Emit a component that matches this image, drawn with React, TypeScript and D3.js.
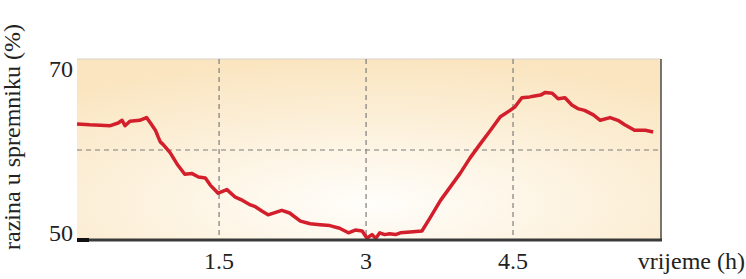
import React from 'react';
import * as d3 from 'd3';

// vrijeme (h)
const times = [
    0.05, 0.18, 0.39, 0.47, 0.51, 0.54, 0.59, 0.69, 0.76, 0.8, 0.85, 0.88, 0.9,
    0.93, 1.0, 1.08, 1.15, 1.22, 1.29, 1.36, 1.41, 1.49, 1.58, 1.66, 1.74, 1.82,
    1.87, 1.94, 2.0, 2.14, 2.22, 2.33, 2.43, 2.53, 2.63, 2.73, 2.82, 2.89, 2.96,
    3.01, 3.06, 3.1, 3.14, 3.19, 3.24, 3.3, 3.35, 3.45, 3.57, 3.65, 3.76, 3.86,
    3.96, 4.06, 4.16, 4.27, 4.37, 4.47, 4.52, 4.59, 4.67, 4.72, 4.78, 4.83, 4.9,
    4.96, 5.03, 5.1, 5.16, 5.23, 5.32, 5.39, 5.49, 5.57, 5.64, 5.74, 5.85, 5.93,
];
// razina u spremniku (%)
const levels = [
    62.9, 62.8, 62.7, 63.0, 63.3, 62.7, 63.2, 63.3, 63.6, 63.0, 62.2, 61.4, 60.9,
    60.6, 59.7, 58.3, 57.3, 57.4, 57.0, 56.9, 56.1, 55.2, 55.6, 54.8, 54.4, 53.9,
    53.7, 53.2, 52.8, 53.3, 53.0, 52.1, 51.8, 51.7, 51.6, 51.3, 50.8, 51.1, 51.0,
    50.2, 50.6, 50.2, 50.8, 50.6, 50.7, 50.6, 50.8, 50.9, 51.0, 52.4, 54.4, 55.9,
    57.4, 59.1, 60.6, 62.2, 63.7, 64.4, 64.8, 65.8, 65.9, 66.0, 66.1, 66.4, 66.3,
    65.7, 65.8, 65.0, 64.6, 64.4, 63.9, 63.3, 63.6, 63.3, 62.8, 62.2, 62.2, 62.0,
];
const xTicks = [1.5, 3, 4.5];
const xTickLabels = ['1.5', '3', '4.5'];
const yTicks = [50, 70];
const yGrid = [60];

const width = 746;
const height = 279;
const plot = { left: 77, right: 661, top: 59, bottom: 240 };
const font = '"Liberation Serif", "Times New Roman", serif';

const App: React.FC = () => {
    const x = d3.scaleLinear().domain([0.05, 6.01]).range([plot.left, plot.right]);
    const y = d3.scaleLinear().domain([50, 70]).range([plot.bottom, 60]);

    const points = times.map((t, i) => ({ t, v: levels[i] }));
    const line = d3
        .line<{ t: number; v: number }>()
        .x((d) => x(d.t))
        .y((d) => y(d.v));

    return (
        <svg
            width={width}
            height={height}
            style={{ position: 'absolute', left: 0, top: 0, background: '#fff' }}
        >
            <defs>
                <radialGradient id="bg" cx="50%" cy="80%" r="80%">
                    <stop offset="0%" stopColor="#fffefb" />
                    <stop offset="40%" stopColor="#fdf4e3" />
                    <stop offset="100%" stopColor="#fae5c0" />
                </radialGradient>
            </defs>

            {/* pozadina */}
            <rect
                x={plot.left}
                y={plot.top}
                width={plot.right - plot.left}
                height={plot.bottom - plot.top}
                fill="url(#bg)"
            />
            <line
                x1={plot.left}
                x2={plot.right}
                y1={plot.top}
                y2={plot.top}
                stroke="#d8d2c8"
                strokeWidth={1}
            />

            {/* mreža */}
            {xTicks.map((t) => (
                <line
                    key={'gx' + t}
                    x1={x(t)}
                    x2={x(t)}
                    y1={plot.top}
                    y2={plot.bottom}
                    stroke="#7d7d7d"
                    strokeWidth={1.2}
                    strokeDasharray="5 4"
                />
            ))}
            {yGrid.map((v) => (
                <line
                    key={'gy' + v}
                    x1={plot.left}
                    x2={plot.right}
                    y1={y(v)}
                    y2={y(v)}
                    stroke="#7d7d7d"
                    strokeWidth={1.2}
                    strokeDasharray="5 4"
                />
            ))}

            {/* krivulja */}
            <path
                d={line(points) || ''}
                fill="none"
                stroke="#d21f2b"
                strokeWidth={3.5}
                strokeLinejoin="round"
            />

            {/* osi */}
            <line
                x1={plot.right}
                x2={plot.right}
                y1={plot.top}
                y2={plot.bottom}
                stroke="#4a4a4a"
                strokeWidth={1.5}
            />
            <line
                x1={plot.left}
                x2={plot.right + 1}
                y1={plot.bottom}
                y2={plot.bottom}
                stroke="#3a3a3a"
                strokeWidth={3}
            />
            <line
                x1={plot.left}
                x2={plot.left + 12}
                y1={plot.bottom}
                y2={plot.bottom}
                stroke="#111"
                strokeWidth={4}
            />

            {/* oznake */}
            {xTicks.map((t, i) => (
                <text
                    key={'tx' + t}
                    x={x(t)}
                    y={269}
                    textAnchor="middle"
                    fontFamily={font}
                    fontSize={24}
                    fill="#222"
                >
                    {xTickLabels[i]}
                </text>
            ))}
            {yTicks.map((v) => (
                <text
                    key={'ty' + v}
                    x={plot.left - 4}
                    y={v === 70 ? y(v) + 17 : y(v) + 1}
                    textAnchor="end"
                    fontFamily={font}
                    fontSize={24}
                    fill="#222"
                >
                    {v}
                </text>
            ))}
            <text
                x={745}
                y={269}
                textAnchor="end"
                fontFamily={font}
                fontSize={24}
                fill="#222"
            >
                vrijeme (h)
            </text>
            <text
                transform={`translate(20, 137) rotate(-90)`}
                textAnchor="middle"
                fontFamily={font}
                fontSize={24}
                fill="#222"
            >
                razina u spremniku (%)
            </text>
        </svg>
    );
};

export default App;
